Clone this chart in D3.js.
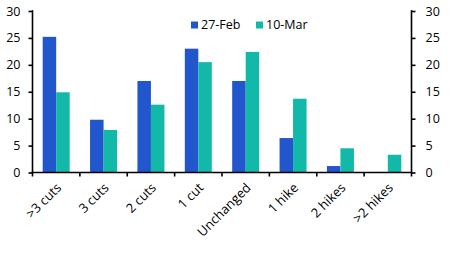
<!DOCTYPE html>
<html><head><meta charset="utf-8">
<script src="https://cdn.jsdelivr.net/npm/d3@7"></script>
<style>body{margin:0;background:#fff}svg{display:block}text{font-family:"Open Sans",sans-serif}</style>
</head><body>
<script>
const categories = [">3 cuts","3 cuts","2 cuts","1 cut","Unchanged","1 hike","2 hikes",">2 hikes"];
const seriesNames = ["27-Feb","10-Mar"];
const feb27 = [25.2, 9.8, 17.0, 23.0, 17.0, 6.4, 1.2, 0.1];
const mar10 = [14.9, 7.9, 12.6, 20.5, 22.4, 13.7, 4.5, 3.3];
const yTicks = [0,5,10,15,20,25,30];
const colors = ["#2156cc","#12b9a9"];

(function(){
const W=450,H=253;
const svg=d3.select("body").append("svg").attr("width",W).attr("height",H);
const pL=32.5,pR=411.5,pT=11,pB=172.5;
const x=d3.scaleBand().domain(categories).range([pL,pR]).padding(0);
const y=d3.scaleLinear().domain([0,30]).range([pB,pT]);
const sub=d3.scaleBand().domain(seriesNames).range([0,27]);
const bw=x.bandwidth();
const data=[feb27,mar10];

const g=svg.append("g");
seriesNames.forEach((s,si)=>{
  g.selectAll(".b"+si).data(categories).enter().append("rect")
    .attr("x",(c)=>x(c)+bw/2-13.5+sub(s))
    .attr("y",(c,i)=>y(data[si][i]))
    .attr("width",sub.bandwidth())
    .attr("height",(c,i)=>y(0)-y(data[si][i]))
    .attr("fill",colors[si]);
});

const xa=svg.append("g");
xa.append("line").attr("x1",pL-1).attr("x2",pR+1).attr("y1",pB).attr("y2",pB).attr("stroke","#000").attr("stroke-width",1.6);
d3.range(categories.length+1).forEach(i=>{
  const xx=pL+i*bw;
  xa.append("line").attr("x1",xx).attr("x2",xx).attr("y1",pB).attr("y2",pB+4).attr("stroke","#000").attr("stroke-width",1.6);
});
categories.forEach(c=>{
  const cx=x(c)+bw/2+6, cy=pB+16;
  xa.append("text").attr("transform",`translate(${cx},${cy}) rotate(-45)`)
    .attr("text-anchor","end").attr("font-size",13).attr("fill","#000").text(c);
});

const yl=svg.append("g").attr("transform",`translate(${pL},0)`)
  .call(d3.axisLeft(y).tickValues(yTicks).tickSize(4).tickPadding(8));
const yr=svg.append("g").attr("transform",`translate(${pR},0)`)
  .call(d3.axisRight(y).tickValues(yTicks).tickSize(4).tickPadding(10));
[yl,yr].forEach(a=>{
  a.select(".domain").remove();
  a.selectAll("line").attr("stroke","#000").attr("stroke-width",1.6);
  a.selectAll("text").attr("font-size",12.5).attr("font-family","'Open Sans',sans-serif").attr("fill","#000");
});
[pL,pR].forEach(xx=>{
  svg.append("line").attr("x1",xx).attr("x2",xx).attr("y1",pT-0.8).attr("y2",pB).attr("stroke","#000").attr("stroke-width",1.6);
});

const leg=svg.append("g");
const lx=[191,256];
seriesNames.forEach((s,i)=>{
  leg.append("rect").attr("x",lx[i]).attr("y",21.5).attr("width",7).attr("height",7).attr("fill",colors[i]);
  leg.append("text").attr("x",lx[i]+10).attr("y",29).attr("font-size",12.5).attr("fill","#000").text(s);
});
})();
</script>
</body></html>
